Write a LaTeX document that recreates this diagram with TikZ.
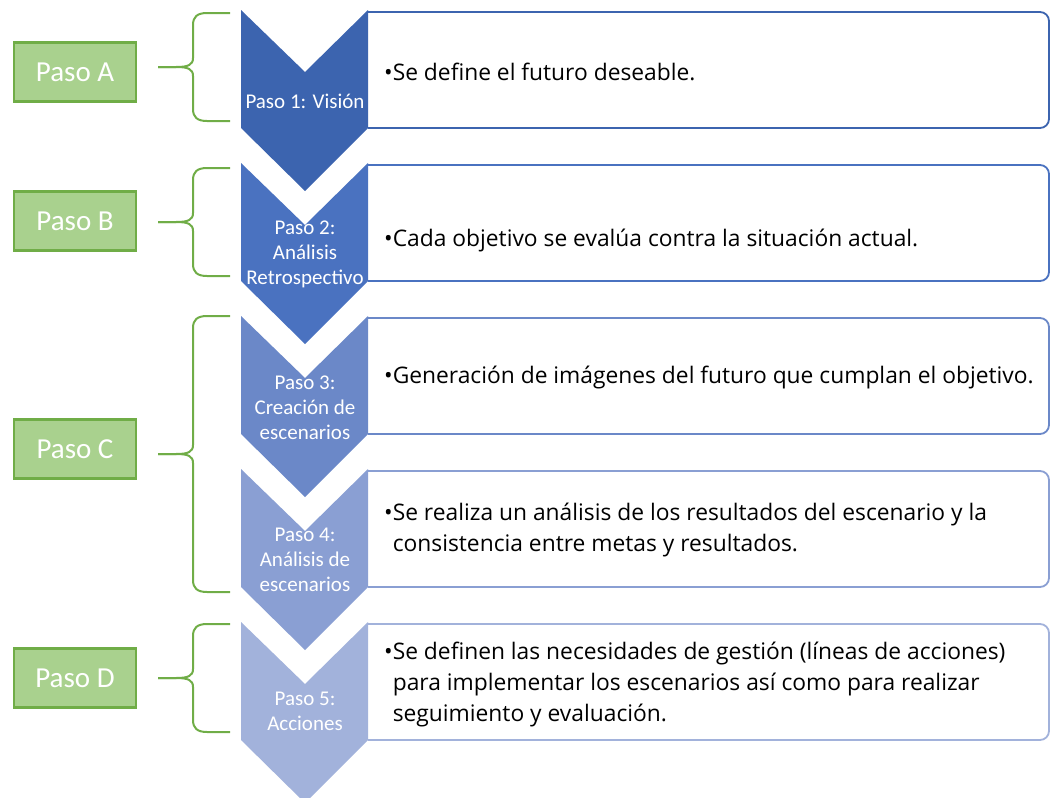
\documentclass[tikz,border=0pt]{standalone}
\usepackage{fontspec}
\setmainfont{Open Sans}
\newfontfamily\carlito{Carlito}
\definecolor{azulA}{HTML}{3C64AF}
\definecolor{azulB}{HTML}{4A72C0}
\definecolor{azulC}{HTML}{6B88C8}
\definecolor{azulD}{HTML}{8A9FD3}
\definecolor{azulE}{HTML}{A2B2DB}
\definecolor{verdeborde}{HTML}{70AD47}
\definecolor{verdefondo}{HTML}{A9D18E}
\tikzset{
  paso/.style={draw=verdeborde, fill=verdefondo, line width=2.5pt, minimum width=122pt,
    minimum height=59pt, text=white, font=\carlito\fontsize{29}{34}\selectfont},
  llave/.style={draw=verdeborde, line width=2pt, line join=round},
  caja/.style={draw=#1, fill=white, line width=1.8pt, rounded corners=9pt},
  etapa/.style={text=white, align=center, font=\carlito\fontsize{21}{25}\selectfont},
  texto/.style={anchor=west, align=left, inner sep=0pt, font=\fontsize{22.8}{31}\selectfont},
}
% llave: arriba, punta, abajo
\newcommand{\llave}[3]{%
  \draw[llave] (230,#1) -- (207,#1) .. controls (197,#1) and (193,#1+4) .. (193,#1+12)
    -- (193,#2-9) .. controls (193,#2-2) and (188,#2) .. (176,#2) -- (158,#2);
  \draw[llave] (158,#2) -- (176,#2) .. controls (188,#2) and (193,#2+2) .. (193,#2+9)
    -- (193,#3-12) .. controls (193,#3-4) and (197,#3) .. (207,#3) -- (230,#3);
}
\begin{document}
\begin{tikzpicture}[x=1pt,y=-1pt]
    \useasboundingbox (0,0) rectangle (1050,798);
    %
    \draw[caja=azulA] (368,12) -- (1049,12) -- (1049,128) -- (368,128);
    \draw[caja=azulB] (368,165) -- (1049,165) -- (1049,281) -- (368,281);
    \draw[caja=azulC] (368,318) -- (1049,318) -- (1049,434) -- (368,434);
    \draw[caja=azulD] (368,471) -- (1049,471) -- (1049,587) -- (368,587);
    \draw[caja=azulE] (368,624) -- (1049,624) -- (1049,740) -- (368,740);
    %
    \fill[azulA] (241,10) -- (305,72) -- (368,10) -- (368,128) -- (305,191) -- (241,128) -- cycle;
    \fill[azulB] (241,163) -- (305,225) -- (368,163) -- (368,281) -- (305,344) -- (241,281) -- cycle;
    \fill[azulC] (241,316) -- (305,378) -- (368,316) -- (368,434) -- (305,497) -- (241,434) -- cycle;
    \fill[azulD] (241,469) -- (305,531) -- (368,469) -- (368,587) -- (305,650) -- (241,587) -- cycle;
    \fill[azulE] (241,622) -- (305,684) -- (368,622) -- (368,740) -- (305,803) -- (241,740) -- cycle;
    %
    \node[etapa] (etapa1) at (305,101) {Paso 1: Visión};
    \node[etapa] (etapa2) at (305,254) {Paso 2:\\Análisis\\Retrospectivo};
    \node[etapa] (etapa3) at (305,408) {Paso 3:\\Creación de\\escenarios};
    \node[etapa] (etapa4) at (305,560) {Paso 4:\\Análisis de\\escenarios};
    \node[etapa] (etapa5) at (305,711) {Paso 5:\\Acciones};
    %
    \node[texto] (texto1) at (384,72) {•Se define el futuro deseable.};
    \node[texto] (texto2) at (384,241) {•Cada objetivo se evalúa contra la situación actual.};
    \node[texto] (texto3) at (384,378) {•Generación de imágenes del futuro que cumplan el objetivo.};
    \node[texto] (texto4) at (384,530) {•Se realiza un análisis de los resultados del escenario y la\\
      \phantom{•}consistencia entre metas y resultados.};
    \node[texto] (texto5) at (384,684) {•Se definen las necesidades de gestión (líneas de acciones)\\
      \phantom{•}para implementar los escenarios así como para realizar\\
      \phantom{•}seguimiento y evaluación.};
    %
    \node[paso] (pasoA) at (75,72) {Paso A};
    \node[paso] (pasoB) at (75,221) {Paso B};
    \node[paso] (pasoC) at (75,449) {Paso C};
    \node[paso] (pasoD) at (75,678) {Paso D};
    %
    \llave{13}{67}{121}
    \llave{168}{222}{276}
    \llave{316}{454}{592}
    \llave{624}{678}{732}
  \end{tikzpicture}
\end{document}
